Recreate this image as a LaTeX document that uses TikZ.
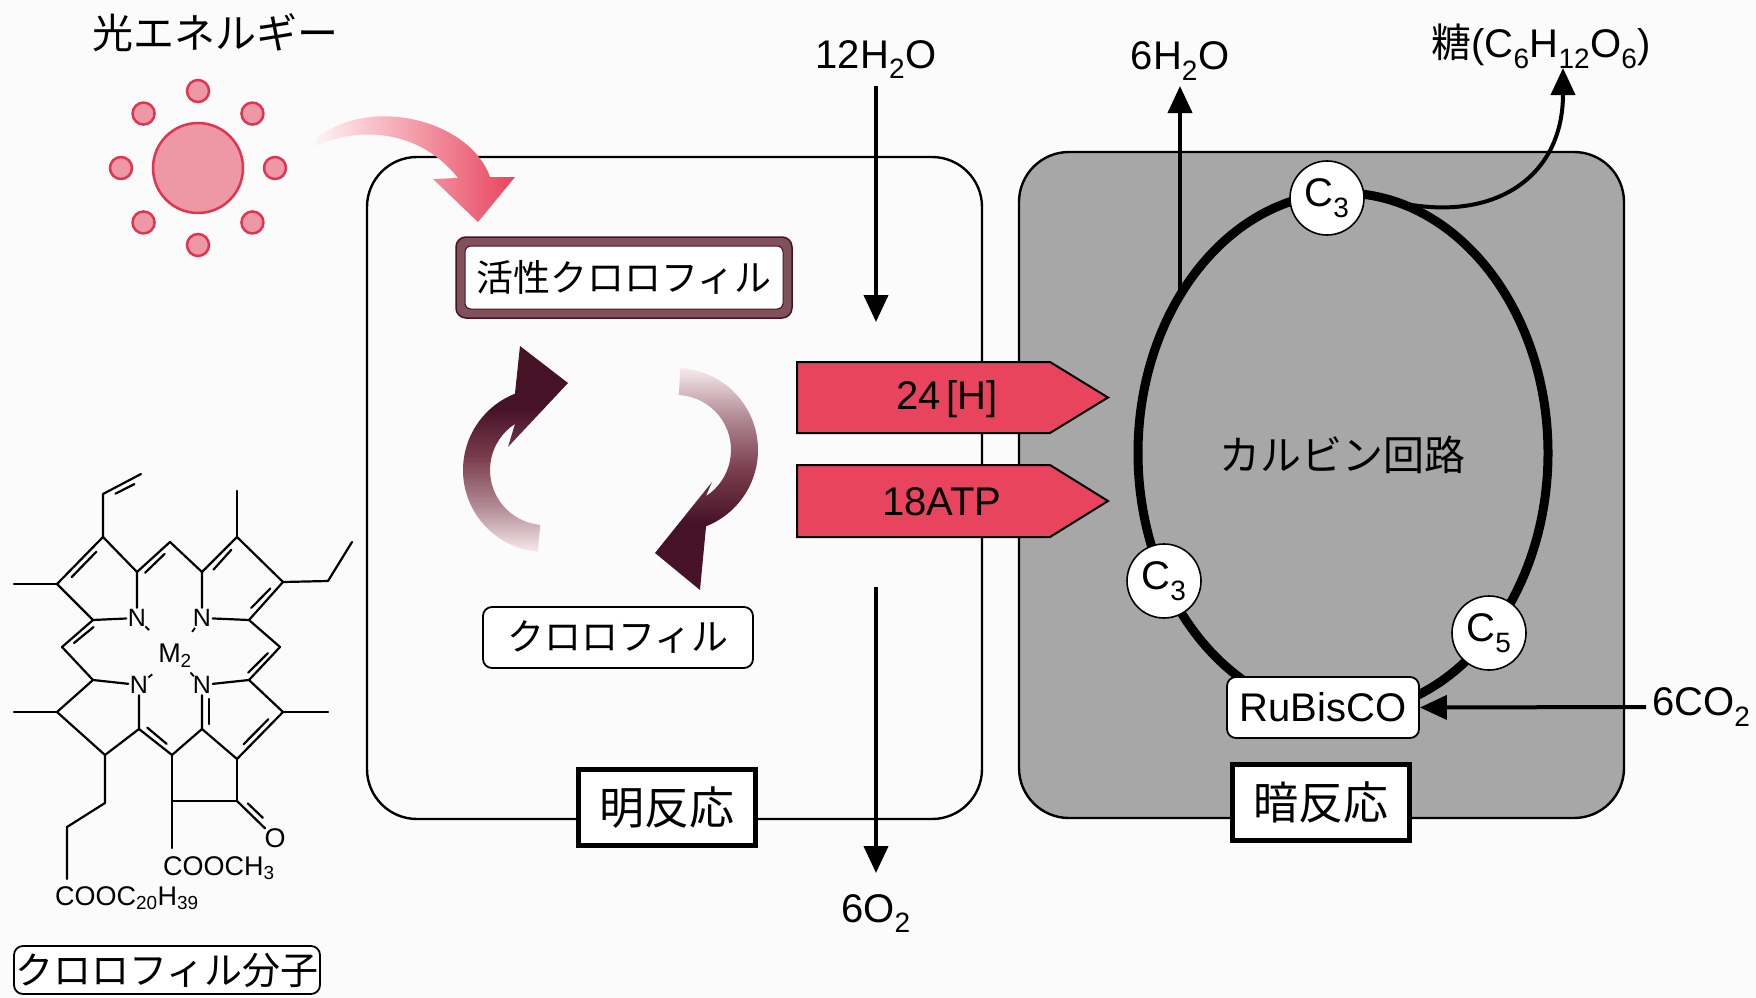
\documentclass[tikz,border=0pt]{standalone}
\usepackage{fontspec}
\setmainfont{Liberation Sans}
\newfontfamily\jp{Noto Sans CJK JP}
\usetikzlibrary{arrows.meta,calc,shapes.geometric}

\definecolor{paper}{HTML}{FCFBFB}
\definecolor{sunline}{HTML}{DF3550}
\definecolor{sunfill}{HTML}{EE97A5}
\definecolor{hot}{HTML}{E8445D}
\definecolor{wine}{HTML}{461226}
\definecolor{winemid}{HTML}{7A3D4E}
\definecolor{winefade}{HTML}{F6E9EC}
\definecolor{band}{HTML}{80505B}
\definecolor{stroma}{HTML}{A7A7A7}

% dark at the top, fading out towards the bottom
\pgfdeclareverticalshading{cycfade}{100bp}{%
  color(0bp)=(winefade); color(25bp)=(winefade); color(36bp)=(winemid!55!winefade);
  color(48bp)=(winemid); color(60bp)=(wine); color(100bp)=(wine)}

\newcommand\fs[1]{\fontsize{#1}{#1}\selectfont}
\newcommand\sbs[1]{\textsubscript{#1}}
% inner line of a double bond, pulled towards a reference point
\newcommand\dbl[3]{\draw[bond] ($(#1)!0.18!(#2)!6.5pt!(#3)$) -- ($(#2)!0.18!(#1)!6.5pt!(#3)$);}

\begin{document}
\begin{tikzpicture}[x=1pt,y=-1pt,
  lbl/.style={inner sep=0pt,font=\fs{40}},
  jlbl/.style={inner sep=0pt,font=\jp\fs{41}},
  flow/.style={line width=4pt,-{Triangle[length=27pt,width=24pt]}},
  frame/.style={draw,line width=2.4pt,rounded corners=50pt,inner sep=0pt},
  tagbox/.style={draw,line width=5pt,fill=white,inner sep=0pt,minimum width=177pt,minimum height=76pt,font=\jp\fs{45}},
  softbox/.style={draw,line width=1.8pt,fill=white,rounded corners=9pt,inner sep=0pt},
  carbon/.style={circle,draw,line width=1.6pt,fill=white,inner sep=0pt,minimum size=74pt,font=\fs{40}},
  photon/.style={circle,draw=sunline,fill=sunfill,line width=2.5pt,inner sep=0pt},
  carrier/.style={draw,line width=2pt,fill=hot},
  bond/.style={line width=2.2pt,line cap=round,line join=round},
  atom/.style={inner sep=1.5pt,font=\fs{25}},
  group/.style={inner sep=0pt,font=\fs{27}},
]
\fill[paper] (0,0) rectangle (1756,998);
\useasboundingbox (0,0) rectangle (1756,998);

% ---------- compartments ----------
\node[frame,fill=paper,minimum width=615pt,minimum height=662pt] (light) at (674.5,488) {};
\node[frame,fill=stroma,minimum width=605pt,minimum height=666pt] (dark) at (1321.5,485) {};

% ---------- light energy ----------
\node[jlbl] (energy) at (215,33) {光エネルギー};
\node[photon,minimum size=90pt] (sun) at (198,168) {};
\foreach \a in {0,45,...,315}
  \node[photon,minimum size=22pt] (ray\a) at ($(sun.center)+(\a:77)$) {};

% ---------- light reaction ----------
\node[draw=wine,line width=1.5pt,fill=band,rounded corners=10pt,inner sep=0pt,
      minimum width=336pt,minimum height=81pt] (activeRim) at (624,277.5) {};
\node[draw=wine,line width=1pt,fill=white,rounded corners=6pt,inner sep=0pt,
      minimum width=318pt,minimum height=63pt,font=\jp\fs{37}] (active) at (activeRim.center) {活性クロロフィル};
\node[softbox,minimum width=270pt,minimum height=61pt,font=\jp\fs{37}] (chl) at (618,637.5) {クロロフィル};

% incoming light
\shade[left color=hot!5!white,right color=hot]
  (313,147) .. controls (360,125) and (420,130) .. (458,178)
  -- (433,179) -- (478,222) -- (515,177) -- (490,177)
  .. controls (470,120) and (370,95) .. (317,138) -- cycle;

% excitation / relaxation cycle
\coordinate (cl) at (545,470);
\coordinate (cr) at (676,450);
\shade[shading=cycfade]
  ($(cl)+(95:82)$) arc[start angle=95,end angle=248.5,radius=82]
  -- (520,346) -- (568,383) -- (508,447)
  -- ($(cl)+(237:55)$) arc[start angle=237,end angle=95,radius=55] -- cycle;
\shade[shading=cycfade,shading angle=180]
  ($(cr)+(273:82)$) arc[start angle=273,end angle=428.5,radius=82]
  -- (700,590) -- (655,553) -- (712,482)
  -- ($(cr)+(417:55)$) arc[start angle=417,end angle=273,radius=55] -- cycle;

\node[tagbox] (lightTag) at (667,807.5) {明反応};

% water in, oxygen out
\node[lbl,anchor=base] (waterIn) at (876,68) {12H\sbs2O};
\coordinate (waterInEnd) at (876,322);
\draw[flow] ([yshift=-18pt]waterIn.base) -- (waterInEnd);
\coordinate (oxyStart) at (876,587);
\node[lbl,anchor=base] (oxy) at (876,922) {6O\sbs2};
\draw[flow] (oxyStart) -- ([yshift=49pt]oxy.base);

% ---------- dark reaction ----------
\node[ellipse,draw,line width=9pt,minimum width=410pt,minimum height=520pt,inner sep=0pt] (calvin) at (1343,453) {};
\node[jlbl] (calvinName) at (1342,455) {カルビン回路};
\node[carbon] (c3top) at (1327,198) {C\sbs3};
\node[carbon] (c3left) at (1164,581) {C\sbs3};
\node[carbon] (c5) at (1489,633) {C\sbs5};
\node[softbox,minimum width=192pt,minimum height=61pt,font=\fs{40}] (rubisco) at (1323,707.5) {RuBisCO};
\node[tagbox] (darkTag) at (1320.5,802.5) {暗反応};

% energy carriers
\path[carrier] (797,362) -- (1050,362) -- (1108,397.5) -- (1050,433) -- (797,433) -- cycle;
\node[lbl] (nadph) at (947,399) {24\hspace{5pt}[H]};
\path[carrier] (797,465) -- (1050,465) -- (1108,501) -- (1050,537) -- (797,537) -- cycle;
\node[lbl] (atp) at (942,502) {18ATP};

% products and CO2
\coordinate (waterOutStart) at (1180,295);
\node[lbl,anchor=base] (waterOut) at (1180,70) {6H\sbs2O};
\draw[flow] (waterOutStart) -- ([yshift=-16pt]waterOut.base);
\coordinate (sugarStart) at (1392,201);
\coordinate (sugarTip) at (1563,68);
\node[lbl,anchor=base] (sugar) at (1541,58) {{\jp 糖}(C\sbs6H\sbs{12}O\sbs6)};
\draw[flow] (sugarStart) .. controls (1490,225) and (1563,180) .. (sugarTip);
\node[lbl,anchor=west] (co2) at (1652,707) {6CO\sbs2};
\draw[flow] ([xshift=-6pt]co2.west) -- (rubisco.east);

% ---------- chlorophyll molecule ----------
\coordinate (Ca1) at (93,620);  \coordinate (Cb1) at (57,584);
\coordinate (Cb2) at (103,537); \coordinate (Ca2) at (137,572);
\coordinate (Ca3) at (202,572); \coordinate (Cb3) at (237,537);
\coordinate (Cb4) at (283,582); \coordinate (Ca4) at (249,620);
\coordinate (Ca5) at (249,680); \coordinate (Cb5) at (283,712);
\coordinate (Cb6) at (237,759); \coordinate (Ca6) at (202,729);
\coordinate (Ca7) at (93,680);  \coordinate (Cb7) at (57,712);
\coordinate (Cb8) at (105,755); \coordinate (Ca8) at (139,729);
\coordinate (mT) at (170,542);  \coordinate (mR) at (280,647);
\coordinate (mB) at (172,755);  \coordinate (mL) at (62,647);
\coordinate (E1) at (237,801);  \coordinate (E2) at (172,801);
\coordinate (E3) at (172,848);
\coordinate (Me1) at (14,584);  \coordinate (Me3) at (237,491);
\coordinate (Me5) at (328,712); \coordinate (Me7) at (14,712);
\coordinate (Cv1) at (103,494); \coordinate (Cv2) at (141,474);
\coordinate (Et1) at (328,581); \coordinate (Et2) at (352,542);
\coordinate (P1) at (105,803);  \coordinate (P2) at (67,827);
\coordinate (P3) at (67,879);
\coordinate (RA) at (105,586);  \coordinate (RB) at (235,586);
\coordinate (RC) at (235,713);  \coordinate (RD) at (107,712);
\coordinate (vinR) at (135,505); \coordinate (oxR) at (272,795);

\node[atom] (N1) at (137,618) {N};
\node[atom] (N2) at (202,618) {N};
\node[atom] (N3) at (139,685) {N};
\node[atom] (N4) at (202,685) {N};
\node[atom,font=\fs{27}] (Mg) at (175,656) {M\sbs2};
\node[group] (Oatom) at (275,838) {O};
\node[group,anchor=west] (ester1) at (163,868) {COOCH\sbs3};
\node[group,anchor=west] (ester2) at (55,898) {COOC\sbs{20}H\sbs{39}};

\draw[bond] (N1) -- (Ca1) -- (Cb1) -- (Cb2) -- (Ca2) -- (N1);
\draw[bond] (N2) -- (Ca3) -- (Cb3) -- (Cb4) -- (Ca4) -- (N2);
\draw[bond] (N4) -- (Ca5) -- (Cb5) -- (Cb6) -- (Ca6) -- (N4);
\draw[bond] (N3) -- (Ca7) -- (Cb7) -- (Cb8) -- (Ca8) -- (N3);
\draw[bond] (Ca2) -- (mT) -- (Ca3);
\draw[bond] (Ca4) -- (mR) -- (Ca5);
\draw[bond] (Ca1) -- (mL) -- (Ca7);
\draw[bond] (Ca8) -- (mB) -- (Ca6);
\draw[bond] (mB) -- (E2) -- (E1) -- (Cb6);
\draw[bond] (E2) -- (E3);
\draw[bond] (E1) -- (Oatom);
\draw[bond] (Cb1) -- (Me1);
\draw[bond] (Cb2) -- (Cv1) -- (Cv2);
\draw[bond] (Cb3) -- (Me3);
\draw[bond] (Cb4) -- (Et1) -- (Et2);
\draw[bond] (Cb5) -- (Me5);
\draw[bond] (Cb7) -- (Me7);
\draw[bond] (Cb8) -- (P1) -- (P2) -- (P3);

\dbl{Cb1}{Cb2}{RA}
\dbl{Ca1}{mL}{Mg}
\dbl{Ca2}{mT}{Mg}
\dbl{Ca3}{Cb3}{RB}
\dbl{Cb4}{Ca4}{RB}
\dbl{mR}{Ca5}{Mg}
\dbl{Cb5}{Cb6}{RC}
\dbl{Ca8}{mB}{Mg}
\dbl{Cv1}{Cv2}{vinR}
\draw[bond] (209,699) -- (209,724);
\draw[bond] ($(E1)!0.12!(Oatom)!6.5pt!(oxR)$) -- ($(Oatom)!0.38!(E1)!6.5pt!(oxR)$);

% coordination to the central metal
\foreach \n in {N1,N2,N3,N4}
  \draw[line width=1.8pt] ($(\n)!12pt!(Mg)$) -- ($(\n)!17pt!(Mg)$);

\node[softbox,minimum width=306pt,minimum height=48pt,font=\jp\fs{38}] (chlMol) at (167,970) {クロロフィル分子};
\end{tikzpicture}
\end{document}
